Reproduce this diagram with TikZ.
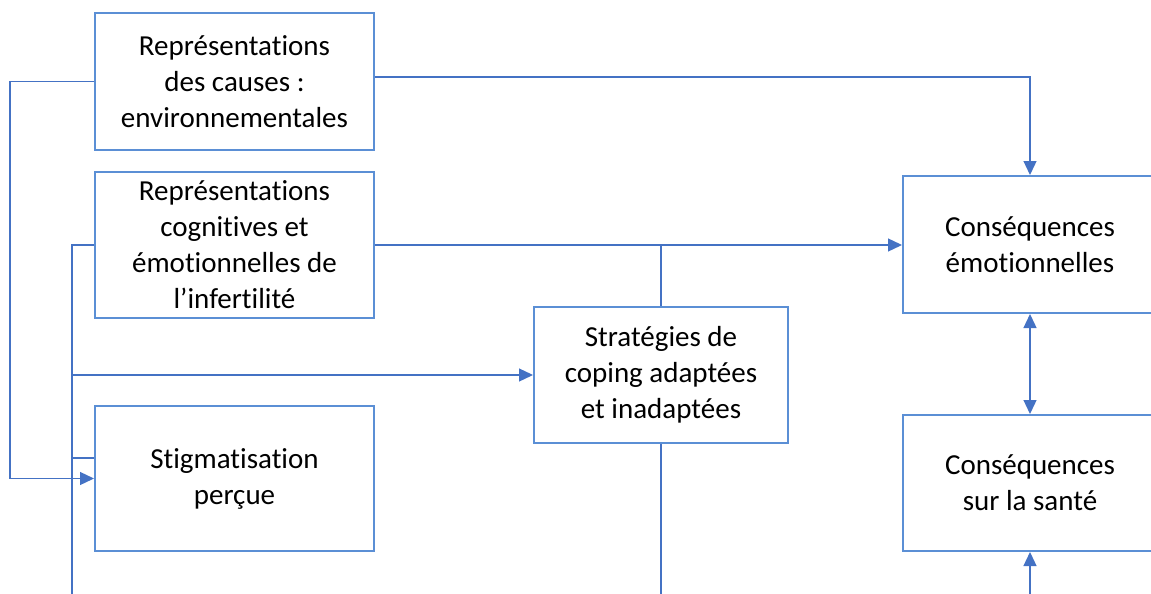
\documentclass[tikz,border=0pt]{standalone}
\usepackage{fontspec}
\setmainfont[Ligatures={NoCommon,NoRequired,NoContextual}, Contextuals=NoAlternate]{Carlito}
\usepackage{tikz}
\usetikzlibrary{arrows, arrows.meta}
\definecolor{boxblue}{HTML}{5B8FD5}
\definecolor{lineblue}{HTML}{4472C4}
\tikzset{
  box/.style = {draw=boxblue, line width=2pt, align=center, inner sep=0pt,
    font=\fontsize{29}{36}\selectfont},
  conn/.style = {draw=lineblue, line width=1.3pt},
  arr/.style = {conn, -{Triangle[length=14pt, width=13pt]}},
  darr/.style = {conn, {Triangle[length=14pt, width=13pt]}-{Triangle[length=14pt, width=13pt]}}
}

\begin{document}
\begin{tikzpicture}[x=1pt, y=-1pt]

\useasboundingbox (0,0) rectangle (1151,594);
\clip (0,0) rectangle (1151,594);

\node[box, minimum width=279pt, minimum height=137pt] (causes) at (234.5,81.5) {Représentations\\des causes :\\environnementales};
\node[box, minimum width=279pt, minimum height=146pt] (cogn) at (234.5,245) {Représentations\\cognitives et\\émotionnelles de\\l’infertilité};
\node[box, minimum width=279pt, minimum height=145pt] (stigma) at (234.5,478.5) {Stigmatisation\\perçue};
\node[box, minimum width=254pt, minimum height=136pt] (coping) at (661,375) {Stratégies de\\coping adaptées\\et inadaptées};
\node[box, minimum width=254pt, minimum height=137pt] (emot) at (1030,244.5) {Conséquences\\émotionnelles};
\node[box, minimum width=254pt, minimum height=136pt] (sante) at (1030,483) {Conséquences\\sur la santé};

\coordinate (left) at (10,81.5);
\coordinate (bus) at (72,594);
\coordinate (bot) at (661,594);

\draw[arr] (causes.west) -- (left) |- (stigma.west);
\draw[arr] ([yshift=4.5pt]causes.east) -| (emot.north);
\draw[arr] (cogn.east) -- (cogn.east -| emot.west);
\draw[conn] (coping.north |- cogn.east) -- (coping.north);
\draw[conn] (coping.south) -- (bot);
\draw[conn] (cogn.west) -| (bus);
\draw[arr] (coping.west -| bus) -- (coping.west);
\draw[conn] ([yshift=20.5pt]stigma.west -| bus) -- ([yshift=20.5pt]stigma.west);
\draw[darr] (emot.south) -- (sante.north);
\draw[arr] (sante.south |- bot) -- (sante.south);

\end{tikzpicture}
\end{document}
